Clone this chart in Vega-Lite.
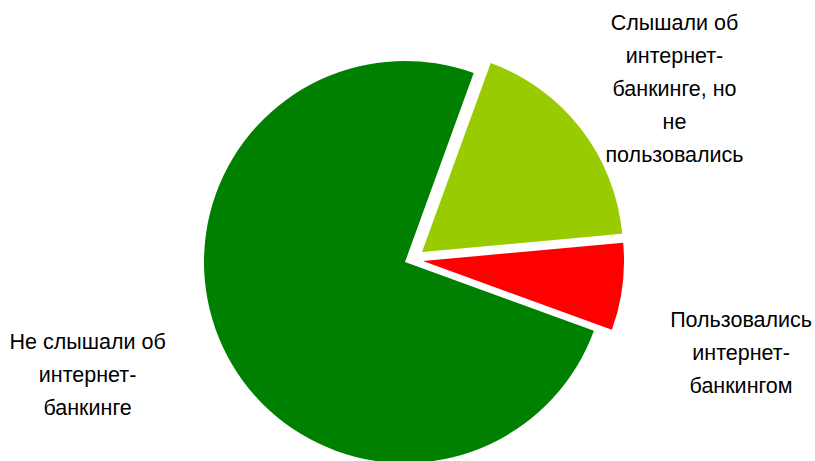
{
  "$schema": "https://vega.github.io/schema/vega-lite/v6.json",
  "width": 810,
  "height": 398,
  "autosize": {"type": "none"},
  "padding": {"top": 63, "left": 0, "right": 5, "bottom": 0},
  "background": "white",
  "view": {"stroke": null},
  "data": {"values": [
    {"cat": "Слышали об интернет-банкинге, но не пользовались", "label": "Слышали об\nинтернет-\nбанкинге, но\nне\nпользовались", "value": 18, "ord": 1},
    {"cat": "Пользовались интернет-банкингом", "label": "Пользовались\nинтернет-\nбанкингом", "value": 7, "ord": 2},
    {"cat": "Не слышали об интернет-банкинге", "label": "Не слышали об\nинтернет-\nбанкинге", "value": 75, "ord": 3}
  ]},
  "encoding": {
    "theta": {"field": "value", "type": "quantitative", "stack": true, "scale": {"range": [0.349, 6.632]}},
    "order": {"field": "ord", "type": "quantitative"}
  },
  "layer": [
    {
      "mark": {"type": "arc", "radius": 201},
      "encoding": {
        "color": {"field": "cat", "type": "nominal", "legend": null, "scale": {"domain": ["Слышали об интернет-банкинге, но не пользовались", "Пользовались интернет-банкингом", "Не слышали об интернет-банкинге"], "range": ["#99CC00", "#FF0000", "#008000"]}},
        "opacity": {"condition": {"test": "datum.ord == 3", "value": 1}, "value": 0}
      }
    },
    {
      "mark": {"type": "arc", "radius": 201, "xOffset": 17, "yOffset": -10},
      "encoding": {
        "color": {"field": "cat", "type": "nominal", "legend": null},
        "opacity": {"condition": {"test": "datum.ord == 1", "value": 1}, "value": 0}
      }
    },
    {
      "mark": {"type": "arc", "radius": 201, "xOffset": 18, "yOffset": -1},
      "encoding": {
        "color": {"field": "cat", "type": "nominal", "legend": null},
        "opacity": {"condition": {"test": "datum.ord == 2", "value": 1}, "value": 0}
      }
    },
    {
      "mark": {"type": "text", "radius": 320, "dx": 16, "dy": -43, "font": "Liberation Sans", "fontSize": 21.5, "lineBreak": "\n", "lineHeight": 33, "align": "center", "baseline": "middle", "color": "black"},
      "encoding": {
        "text": {"field": "label"},
        "opacity": {"condition": {"test": "datum.ord == 1", "value": 1}, "value": 0}
      }
    },
    {
      "mark": {"type": "text", "radius": 350, "dx": -11, "dy": 14, "font": "Liberation Sans", "fontSize": 21.5, "lineBreak": "\n", "lineHeight": 33, "align": "center", "baseline": "middle", "color": "black"},
      "encoding": {
        "text": {"field": "label"},
        "opacity": {"condition": {"test": "datum.ord == 2", "value": 1}, "value": 0}
      }
    },
    {
      "mark": {"type": "text", "radius": 337, "dx": -12, "dy": -61, "font": "Liberation Sans", "fontSize": 21.5, "lineBreak": "\n", "lineHeight": 33, "align": "center", "baseline": "middle", "color": "black"},
      "encoding": {
        "text": {"field": "label"},
        "opacity": {"condition": {"test": "datum.ord == 3", "value": 1}, "value": 0}
      }
    }
  ]
}
